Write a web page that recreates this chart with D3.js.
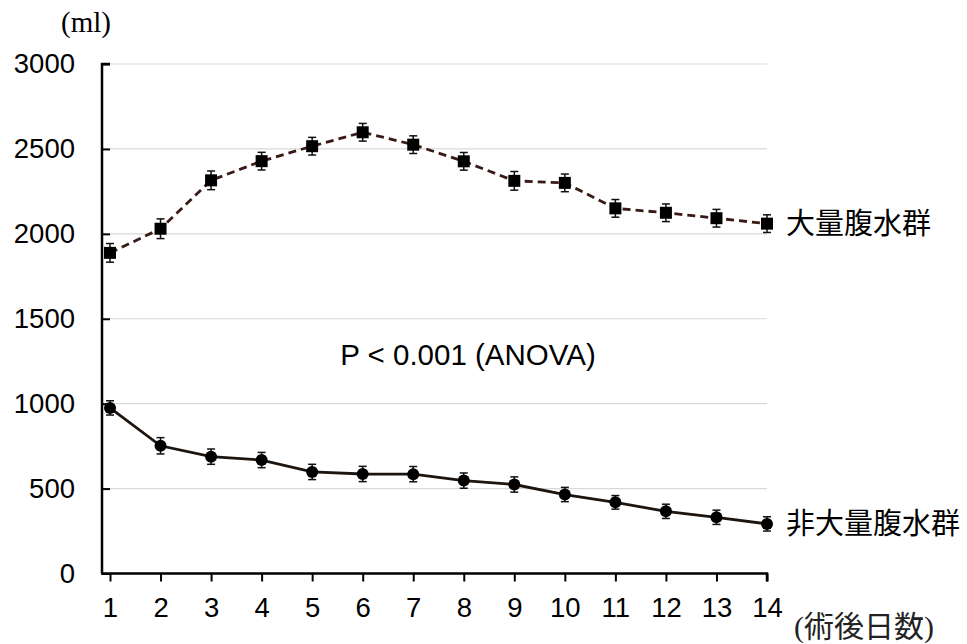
<!DOCTYPE html>
<html>
<head>
<meta charset="utf-8">
<script src="https://cdn.jsdelivr.net/npm/d3@7"></script>
<style>
  body { margin: 0; background: #fff; }
  svg { display: block; }
</style>
</head>
<body>
<svg id="chart"></svg>
<script>
// Data
const days = [1, 2, 3, 4, 5, 6, 7, 8, 9, 10, 11, 12, 13, 14];
const largeMean = [1888, 2030, 2315, 2428, 2516, 2598, 2525, 2427, 2312, 2300, 2150, 2124, 2092, 2060];
const largeErr = [55, 58, 55, 52, 52, 52, 52, 52, 55, 52, 52, 52, 52, 52];
const smallMean = [975, 752, 688, 668, 598, 586, 585, 547, 524, 465, 419, 366, 331, 292];
const smallErr = [42, 48, 45, 45, 45, 45, 45, 45, 45, 42, 40, 42, 42, 42];
const yTicks = [0, 500, 1000, 1500, 2000, 2500, 3000];
const largeLabel = "大量腹水群";
const smallLabel = "非大量腹水群";

const width = 967, height = 644;
const svg = d3.select("#chart").attr("width", width).attr("height", height);

const x = d3.scaleLinear().domain([1, 14]).range([110, 767]);
const y = d3.scaleLinear().domain([0, 3000]).range([573.5, 64]);

const sans = "Liberation Sans, Arial, sans-serif";
const cjk = "'Noto Sans CJK JP', 'Noto Sans CJK SC', sans-serif";

// Gridlines
svg.append("g")
  .selectAll("line")
  .data(yTicks.filter(d => d > 0))
  .join("line")
  .attr("x1", x(1))
  .attr("x2", x(14))
  .attr("y1", d => y(d))
  .attr("y2", d => y(d))
  .attr("stroke", "#d9d9d9")
  .attr("stroke-width", 1.2);

// Axes
const yAxis = svg.append("g")
  .attr("transform", `translate(${x(1)},0)`)
  .call(d3.axisLeft(y).tickValues(yTicks).tickSize(8).tickPadding(27).tickFormat(d3.format("d")));
const xAxis = svg.append("g")
  .attr("transform", `translate(0,${y(0)})`)
  .call(d3.axisBottom(x).tickValues(days).tickSize(8).tickPadding(16).tickFormat(d3.format("d")));

[yAxis, xAxis].forEach(g => {
  g.select(".domain").attr("stroke", "#000").attr("stroke-width", 2.5);
  g.selectAll(".tick line").attr("stroke", "#000").attr("stroke-width", 2);
  g.selectAll(".tick text")
    .attr("fill", "#000")
    .attr("font-family", sans)
    .attr("font-size", 27.5);
});
yAxis.select(".domain").attr("d", `M0,${y(3000)}H-8V${y(0)}`);
xAxis.select(".domain").attr("d", `M${x(1) - 9},0H${x(14)}V8`);

// Error bars + lines + markers for both groups
function drawSeries(means, errs, opts) {
  const pts = days.map((d, i) => ({ d, m: means[i], e: errs[i] }));
  const line = d3.line().x(p => x(p.d)).y(p => y(p.m));

  const eb = svg.append("g").attr("stroke", "#111").attr("stroke-width", 1.5);
  pts.forEach(p => {
    eb.append("line").attr("x1", x(p.d)).attr("x2", x(p.d))
      .attr("y1", y(p.m - p.e)).attr("y2", y(p.m + p.e));
    [p.m - p.e, p.m + p.e].forEach(v => {
      eb.append("line").attr("x1", x(p.d) - 4).attr("x2", x(p.d) + 4)
        .attr("y1", y(v)).attr("y2", y(v));
    });
  });

  svg.append("path")
    .datum(pts)
    .attr("d", line)
    .attr("fill", "none")
    .attr("stroke", opts.color)
    .attr("stroke-width", 2.8)
    .attr("stroke-dasharray", opts.dash || null);

  if (opts.shape === "square") {
    svg.append("g").selectAll("rect").data(pts).join("rect")
      .attr("x", p => x(p.d) - 6).attr("y", p => y(p.m) - 6)
      .attr("width", 12).attr("height", 12).attr("fill", "#000");
  } else {
    svg.append("g").selectAll("circle").data(pts).join("circle")
      .attr("cx", p => x(p.d)).attr("cy", p => y(p.m))
      .attr("r", 6).attr("fill", "#000");
  }
}

drawSeries(largeMean, largeErr, { color: "#3a1a16", dash: "8,5", shape: "square" });
drawSeries(smallMean, smallErr, { color: "#1e140e", shape: "circle" });

// Series labels
svg.append("text").attr("x", 786).attr("y", y(largeMean[13]) + 10)
  .attr("font-family", cjk).attr("font-size", 29).attr("fill", "#000").text(largeLabel);
svg.append("text").attr("x", 786).attr("y", y(smallMean[13]) + 10)
  .attr("font-family", cjk).attr("font-size", 29).attr("fill", "#000").text(smallLabel);

// Annotation
svg.append("text").attr("x", 468).attr("y", 365).attr("text-anchor", "middle")
  .attr("font-family", sans).attr("font-size", 29.5)
  .attr("fill", "#000").text("P < 0.001 (ANOVA)");

// Unit labels
svg.append("text").attr("x", 86).attr("y", 32).attr("text-anchor", "middle")
  .attr("font-family", "Liberation Serif, Times New Roman, serif").attr("font-size", 29)
  .attr("fill", "#000").text("(ml)");
svg.append("text").attr("x", 794).attr("y", 637)
  .attr("font-family", "Liberation Serif, " + cjk).attr("font-size", 30)
  .attr("fill", "#222").text("(術後日数)");
</script>
</body>
</html>
